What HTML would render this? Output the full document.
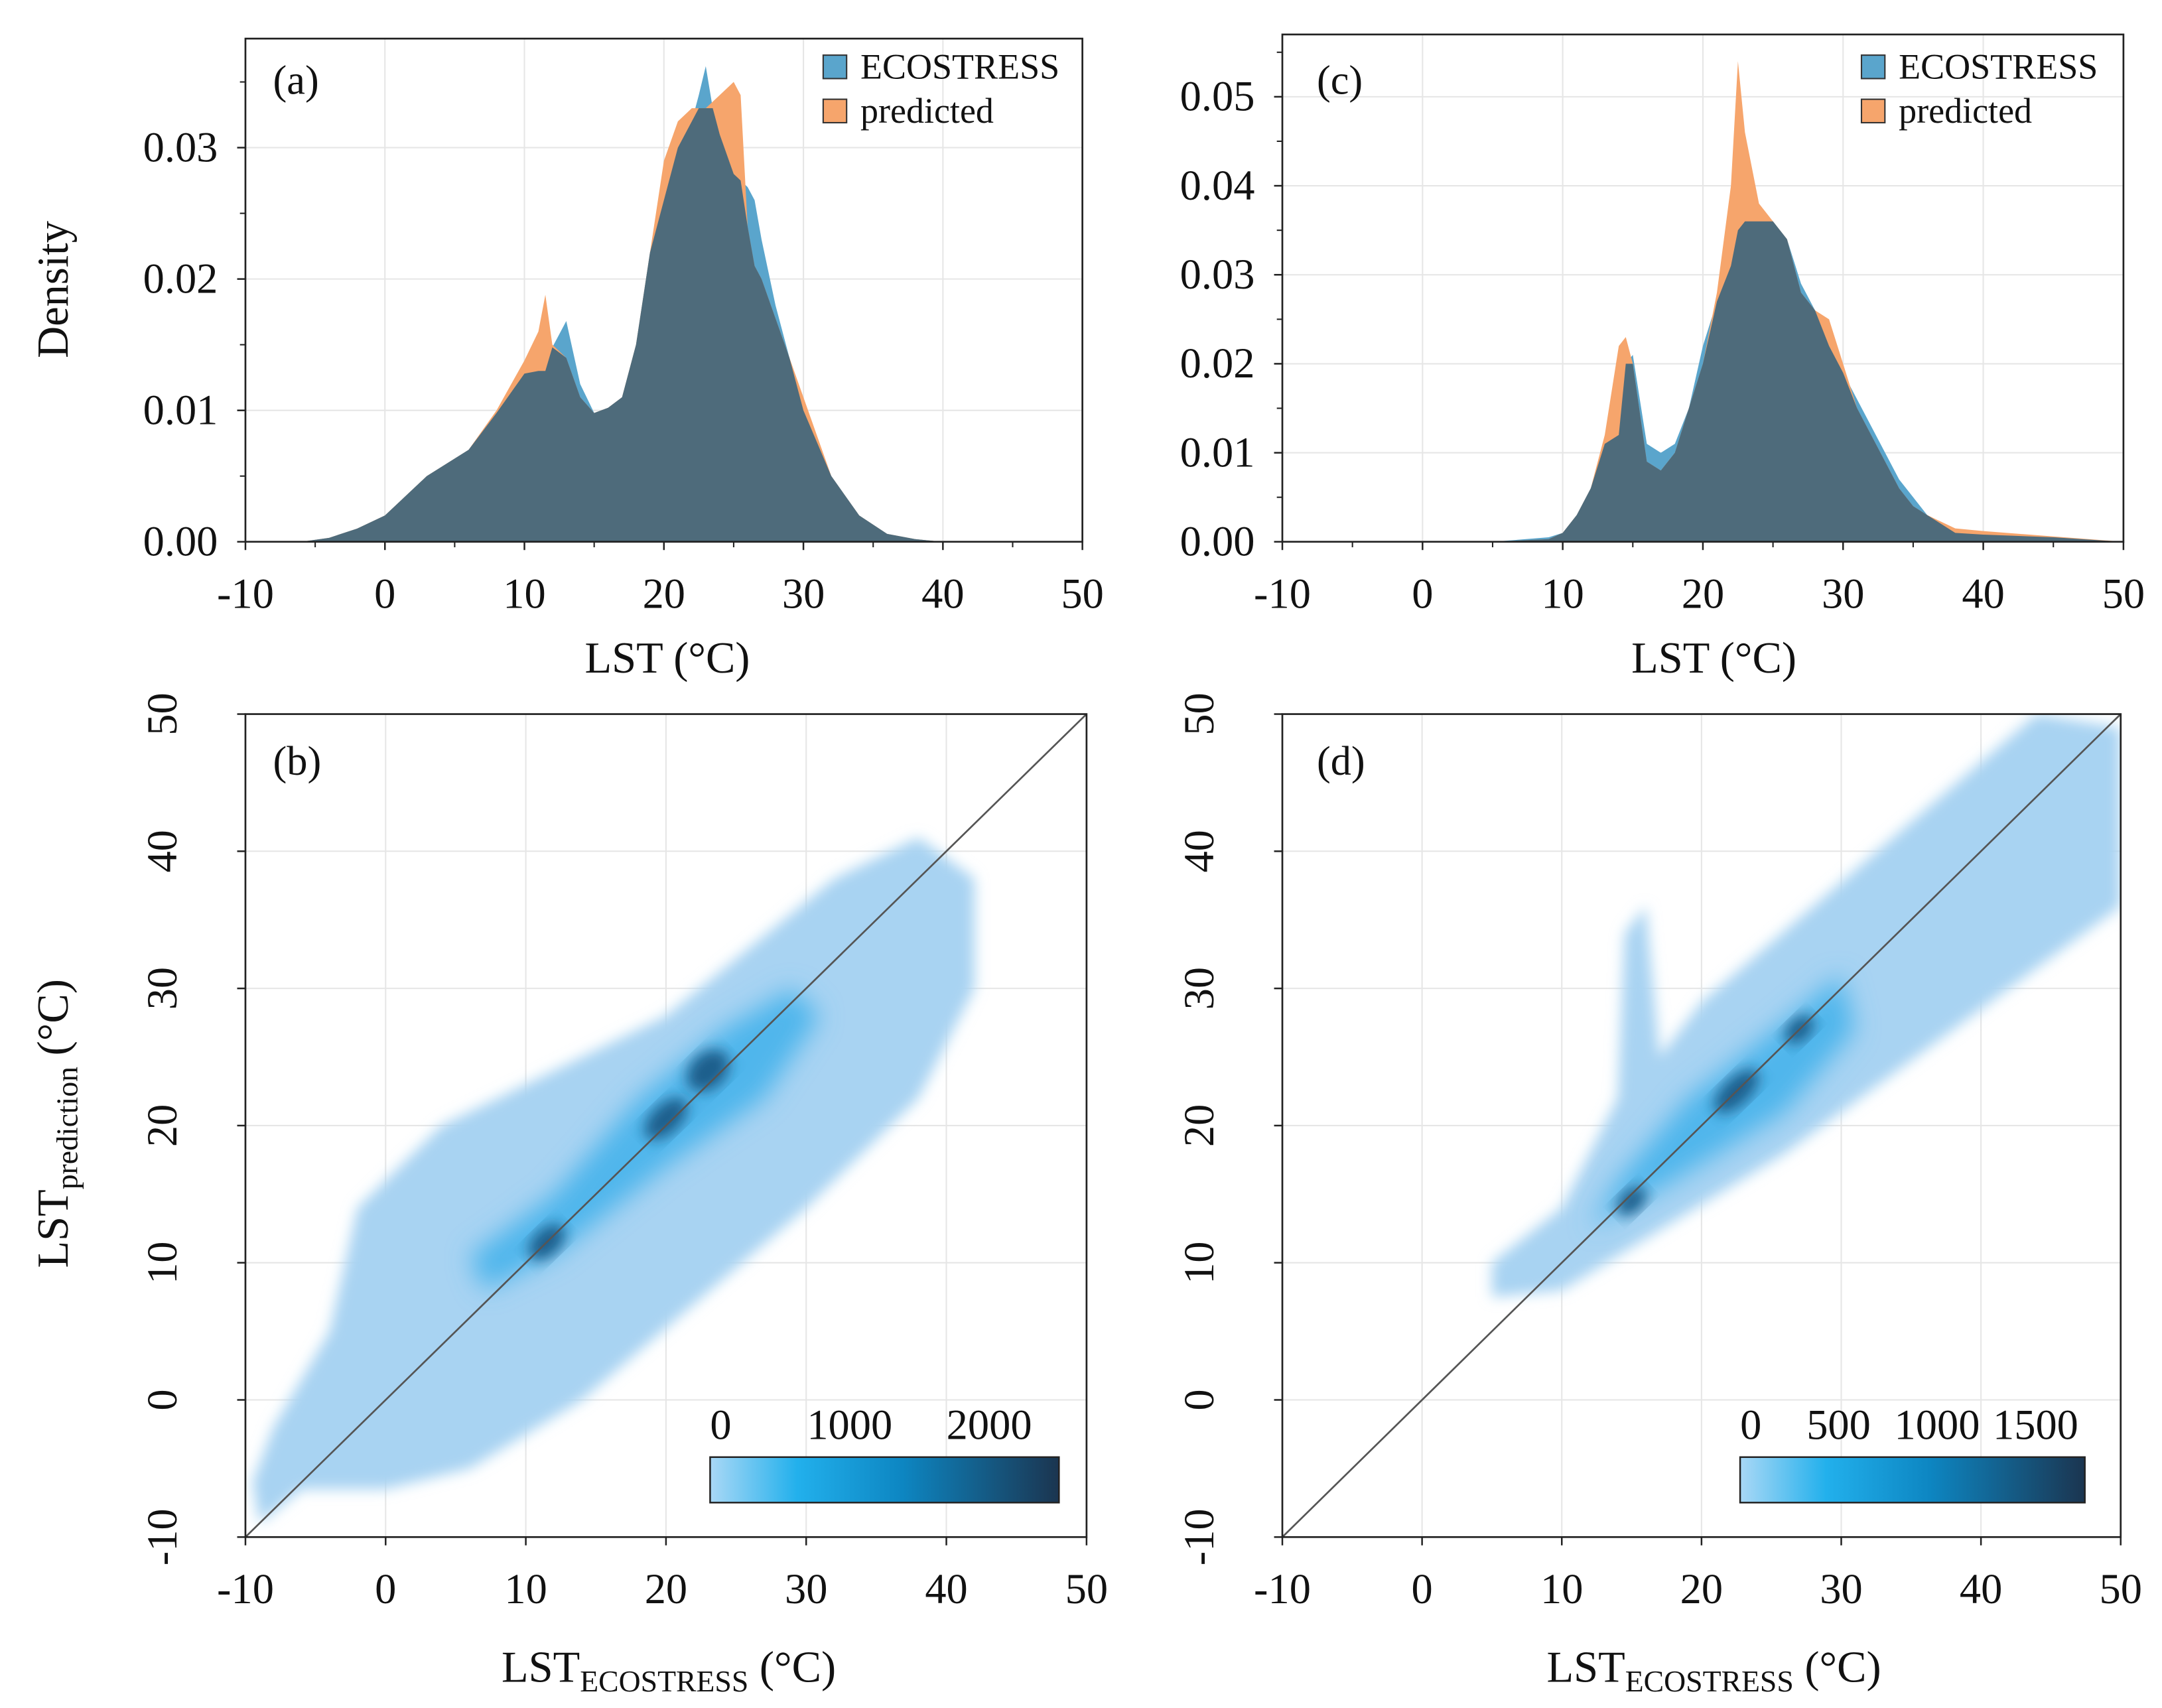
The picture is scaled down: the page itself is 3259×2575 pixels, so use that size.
<!DOCTYPE html>
<html><head><meta charset="utf-8"><style>
html,body{margin:0;padding:0;background:#fff}
svg{display:block}
text{font-family:"Liberation Serif",serif;fill:#111}
</style></head><body>
<svg id="fig" width="3259" height="2575" viewBox="0 0 3259 2575" xmlns="http://www.w3.org/2000/svg">
<defs>
<filter id="blur6" x="-20%" y="-20%" width="140%" height="140%"><feGaussianBlur stdDeviation="5"/></filter>
<filter id="blur10" x="-30%" y="-30%" width="160%" height="160%"><feGaussianBlur stdDeviation="9"/></filter>
<linearGradient id="cbar" x1="0" x2="1" y1="0" y2="0">
<stop offset="0" stop-color="#a9d8f6"/><stop offset="0.25" stop-color="#22b0ec"/><stop offset="0.55" stop-color="#0d86c2"/><stop offset="1" stop-color="#1b3550"/>
</linearGradient>
</defs>
<g id="root" transform="scale(2.0785,2.0783)"></g>
</svg>
<script>
// ---- data: density panels ----
const xsA = [-6,-4,-2,0,3,6,8,10,11,11.5,12,13,14,15,16,17,18,19,20,21,22,22.5,23,23.5,24,25,25.5,26,26.5,27,28,29,30,31,32,34,36,38,40];
const ecoA = [0,0.0003,0.001,0.002,0.005,0.007,0.0098,0.0128,0.013,0.013,0.0148,0.0168,0.012,0.0098,0.0102,0.011,0.015,0.022,0.026,0.030,0.032,0.034,0.0362,0.033,0.031,0.028,0.0275,0.027,0.026,0.023,0.018,0.014,0.010,0.0075,0.005,0.002,0.0006,0.0002,0];
const predA = [0,0.0003,0.001,0.002,0.005,0.007,0.010,0.0138,0.016,0.0188,0.015,0.014,0.011,0.0098,0.0102,0.011,0.015,0.022,0.029,0.032,0.033,0.033,0.033,0.0335,0.034,0.035,0.034,0.024,0.021,0.020,0.017,0.014,0.011,0.008,0.005,0.002,0.0006,0.0002,0];
const xsC = [5,9,10,11,12,13,14,14.5,15,16,17,18,19,20,21,22,22.5,23,24,25,26,27,28,29,30,31,32,33,34,35,36,38,40,45,50];
const ecoC = [0,0.0005,0.001,0.003,0.006,0.011,0.012,0.020,0.021,0.011,0.010,0.011,0.015,0.022,0.027,0.031,0.035,0.036,0.036,0.036,0.034,0.029,0.026,0.022,0.019,0.016,0.013,0.010,0.007,0.005,0.003,0.001,0.0008,0.0005,0];
const predC = [0,0.0003,0.001,0.003,0.006,0.012,0.022,0.023,0.020,0.009,0.008,0.010,0.015,0.020,0.028,0.040,0.054,0.046,0.038,0.036,0.034,0.028,0.026,0.025,0.020,0.015,0.012,0.009,0.006,0.004,0.003,0.0015,0.0012,0.0006,0];
const xTicks = [-10,0,10,20,30,40,50];
const yTicksA = [0,0.01,0.02,0.03];
const yTicksC = [0,0.01,0.02,0.03,0.04,0.05];
const yTicksS = [-10,0,10,20,30,40,50];
// ---- data: scatter density regions (data units) ----
const lightB = [[-9,-9],[-6,-6.5],[0,-6.5],[6,-5],[14,0],[22,7],[30,14],[38,22],[42,30],[42,38],[38,41],[32,38],[26,33],[20,28],[12,24],[4,20],[-2,14],[-4,5],[-8,-2],[-9.5,-6]];
const midB = [[7,8],[12,10.5],[20,17],[27,22],[31,28],[29,30],[24,27],[18,22],[12,15],[6,10.5]];
const darkB = [[23,24,2.2,1.6],[20,20.5,2.4,1.3],[11.5,11.5,2.0,1.2]];
const lightD = [[5,7.5],[10,8],[18,13],[26,18],[34,24],[42,30],[50,36],[50,49],[44,50],[36,43],[28,36],[20,29],[17,25],[16,36],[14.5,34],[14,22],[10,14],[5,10]];
const midD = [[12,12.5],[18,16],[26,21],[31,27],[30,31],[24,26],[19,22],[14,16]];
const darkD = [[22.5,22.5,2.6,1.2],[15,14.5,1.6,1.0],[27,27,1.6,1.0]];
const cbarTicksB = [0,1000,2000], cbarMaxB = 2500;
const cbarTicksD = [0,500,1000,1500], cbarMaxD = 1750;

const NS="http://www.w3.org/2000/svg";
const root=document.getElementById('root');
function el(tag,attrs,parent){const e=document.createElementNS(NS,tag);for(const k in attrs)e.setAttribute(k,attrs[k]);(parent||root).appendChild(e);return e;}
function txt(s,attrs,parent){const t=el('text',attrs,parent);t.textContent=s;return t;}

function panel(o){
  const g=el('g',{});
  
  
  const sx=v=>o.x0+(v-o.xmin)/(o.xmax-o.xmin)*(o.x1-o.x0);
  const sy=v=>o.y0-(v-o.ymin)/(o.ymax-o.ymin)*(o.y0-o.y1);
  o.xt.forEach(v=>{const l=el('line',{x1:sx(v),x2:sx(v),y1:o.y1,y2:o.y0,stroke:'#e6e6e6','stroke-width':1},g);});
  o.yt.forEach(v=>{const l=el('line',{x1:o.x0,x2:o.x1,y1:sy(v),y2:sy(v),stroke:'#e6e6e6','stroke-width':1},g);});
  return {g,sx,sy};
}
function frame(o,p,rotY,fmt){
  const g=p.g;
  const r=el('rect',{x:o.x0,y:o.y1,width:o.x1-o.x0,height:o.y0-o.y1,fill:'none',stroke:'#222','stroke-width':1.3},g);
  
  o.xt.forEach(v=>{
    el('line',{x1:p.sx(v),x2:p.sx(v),y1:o.y0,y2:o.y0+6,stroke:'#222','stroke-width':1.2},g);
    const t=txt(String(v),{x:p.sx(v),y:o.y0+48,'text-anchor':'middle','font-size':31},g);
    
  });
  o.yt.forEach(v=>{
    el('line',{x1:o.x0-6,x2:o.x0,y1:p.sy(v),y2:p.sy(v),stroke:'#222','stroke-width':1.2},g);
    let t;
    if(rotY){t=txt(String(v),{x:0,y:0,'text-anchor':'middle','font-size':31,transform:`translate(${o.x0-50},${p.sy(v)}) rotate(-90)`},g);}
    else{t=txt(fmt(v),{x:o.x0-20,y:p.sy(v)+10,'text-anchor':'end','font-size':31},g);}
    
  });
  if(o.minor){for(let i=0;i<o.yt.length-1;i++){const v=(o.yt[i]+o.yt[i+1])/2;el('line',{x1:o.x0-4,x2:o.x0,y1:p.sy(v),y2:p.sy(v),stroke:'#222','stroke-width':1},g);}
    const top=o.yt[o.yt.length-1]+(o.yt[1]-o.yt[0])/2; if(top<o.ymax) el('line',{x1:o.x0-4,x2:o.x0,y1:p.sy(top),y2:p.sy(top),stroke:'#222','stroke-width':1},g);
    o.xt.slice(0,-1).forEach(v=>el('line',{x1:p.sx(v+5),x2:p.sx(v+5),y1:o.y0,y2:o.y0+4,stroke:'#222','stroke-width':1},g));}
}
function area(p,xs,ys,fill,name){
  let d=`M${p.sx(xs[0])},${p.sy(0)}`;
  xs.forEach((x,i)=>d+=` L${p.sx(x).toFixed(2)},${p.sy(ys[i]).toFixed(2)}`);
  d+=` L${p.sx(xs[xs.length-1])},${p.sy(0)} Z`;
  const a=el('path',{d,fill},p.g);
  
}
function density(o,xs,eco,pred,lbl,lx,lgx){
  const p=panel(o);
  area(p,xs,eco,'#5aa5cc','ecostress-density');
  area(p,xs,pred,'#f6a56c','predicted-density');
  area(p,xs,xs.map((_,i)=>Math.min(eco[i],pred[i])),'#4e6b7b','overlap-density');
  frame(o,p,false,v=>v.toFixed(2));
  const pl=txt(lbl,{x:lx,y:68,'font-size':30},p.g);
  const lg=el('g',{},p.g);
  const e1=el('rect',{x:lgx,y:40,width:17,height:17,fill:'#5aa5cc',stroke:'#333','stroke-width':1},lg);
  const t1=txt('ECOSTRESS',{x:lgx+27,y:57,'font-size':26},lg);
  const e2=el('rect',{x:lgx,y:72,width:17,height:17,fill:'#f6a56c',stroke:'#333','stroke-width':1},lg);
  const t2=txt('predicted',{x:lgx+27,y:89,'font-size':26},lg);
}
function scatter(o,light,mid,dark,lbl,lx,cb){
  const p=panel(o);
  const clip=el('clipPath',{id:'clip'+lbl[1]},p.g);el('rect',{x:o.x0,y:o.y1,width:o.x1-o.x0,height:o.y0-o.y1},clip);
  const cg=el('g',{'clip-path':`url(#clip${lbl[1]})`},p.g);
  const poly=(pts,fill,f,name)=>{const e=el('polygon',{points:pts.map(q=>p.sx(q[0]).toFixed(1)+','+p.sy(q[1]).toFixed(1)).join(' '),fill,filter:f},cg);};
  poly(light,'#a8d3f2','url(#blur6)','low-density-region');
  poly(mid,'#4fb6ec','url(#blur10)','mid-density-region');
  dark.forEach(d=>{const cx=p.sx(d[0]),cy=p.sy(d[1]);const e=el('ellipse',{cx,cy,rx:d[2]*8,ry:d[3]*8,fill:'#1a5f8c',filter:'url(#blur6)',transform:`rotate(-44 ${cx} ${cy})`},cg);});
  const l=el('line',{x1:p.sx(-10),y1:p.sy(-10),x2:p.sx(50),y2:p.sy(50),stroke:'#555','stroke-width':1.3},cg);
  
  frame(o,p,true);
  const pl=txt(lbl,{x:lx,y:562,'font-size':30},p.g);
  const cgp=el('g',{},p.g);
  const r=el('rect',{x:cb.x0,y:1057,width:cb.x1-cb.x0,height:33,fill:'url(#cbar)',stroke:'#222','stroke-width':1.2},cgp);
  
  cb.ticks.forEach(v=>{const t=txt(String(v),{x:cb.x0+v/cb.max*(cb.x1-cb.x0),y:1044,'text-anchor':v===0?'start':'middle','font-size':31},cgp);});
}
density({name:'panel-a',x0:178,x1:785,y0:393,y1:28,xmin:-10,xmax:50,ymin:0,ymax:0.0383,xt:xTicks,yt:yTicksA,minor:true},xsA,ecoA,predA,'(a)',198,597);
density({name:'panel-c',x0:930,x1:1540,y0:393,y1:25,xmin:-10,xmax:50,ymin:0,ymax:0.057,xt:xTicks,yt:yTicksC,minor:true},xsC,ecoC,predC,'(c)',955,1350);
scatter({name:'panel-b',x0:178,x1:788,y0:1115,y1:518,xmin:-10,xmax:50,ymin:-10,ymax:50,xt:xTicks,yt:yTicksS},lightB,midB,darkB,'(b)',198,{x0:515,x1:768,ticks:cbarTicksB,max:cbarMaxB});
scatter({name:'panel-d',x0:930,x1:1538,y0:1115,y1:518,xmin:-10,xmax:50,ymin:-10,ymax:50,xt:xTicks,yt:yTicksS},lightD,midD,darkD,'(d)',955,{x0:1262,x1:1512,ticks:cbarTicksD,max:cbarMaxD});
function title(s,attrs,name){const t=txt(s,attrs);return t;}
title('Density',{x:0,y:0,'font-size':32,'text-anchor':'middle',transform:'translate(49,210) rotate(-90)'},'y-axis-title-density');
title('LST (°C)',{x:484,y:488,'font-size':32,'text-anchor':'middle'},'x-axis-title-a');
title('LST (°C)',{x:1243,y:488,'font-size':32,'text-anchor':'middle'},'x-axis-title-c');
[485,1243].forEach((cx,i)=>{const t=title('',{x:cx,y:1220,'font-size':32,'text-anchor':'middle'},i?'x-axis-title-d':'x-axis-title-b');
  t.innerHTML='LST<tspan font-size="22" dy="7">ECOSTRESS</tspan><tspan dy="-7"> (°C)</tspan>';});
const yt=title('',{x:0,y:0,'font-size':32,'text-anchor':'middle',transform:'translate(49,815) rotate(-90)'},'y-axis-title-prediction');
yt.innerHTML='LST<tspan font-size="22" dy="7">prediction</tspan><tspan dy="-7"> (°C)</tspan>';
</script>
</body></html>
